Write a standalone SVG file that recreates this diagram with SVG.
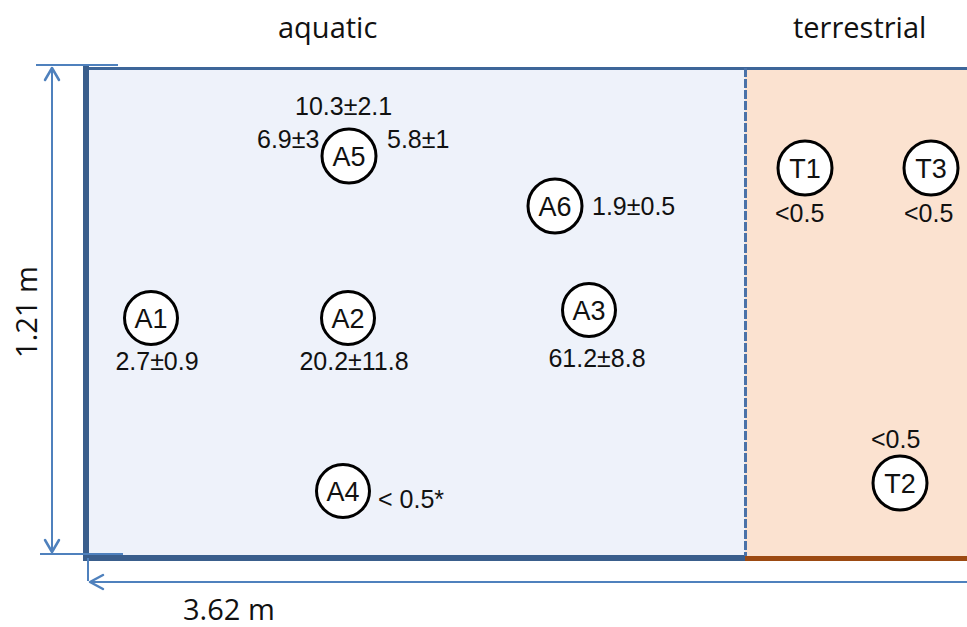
<svg xmlns="http://www.w3.org/2000/svg" width="967" height="627" viewBox="0 0 967 627">
  <style>
    .dim { stroke: #4F81BD; stroke-width: 2; fill: none; }
    .head { stroke: #4F81BD; stroke-width: 2.5; fill: none; stroke-linecap: round; stroke-linejoin: round; }
    .zone { font-family: "Open Sans", "Liberation Sans", sans-serif; font-size: 29px; fill: #111; }
    .site circle { fill: #fff; stroke: #000; stroke-width: 3; }
    .site text.id { font-family: "Liberation Sans", Arial, sans-serif; font-size: 27px; fill: #111; text-anchor: middle; }
    .val { font-family: "Liberation Sans", Arial, sans-serif; font-size: 25px; fill: #111; }
  </style>

  <rect width="967" height="627" fill="#ffffff"/>

  <!-- zone titles -->
  <text class="zone" x="278" y="38">aquatic</text>
  <text class="zone" x="793" y="38">terrestrial</text>

  <!-- tank compartments -->
  <g id="aquatic-zone">
    <rect x="86" y="68" width="659" height="490" fill="#EEF2FA"/>
  </g>
  <g id="terrestrial-zone">
    <rect x="745" y="68" width="230" height="490" fill="#FBE2D0"/>
  </g>

  <!-- tank walls -->
  <g id="walls">
    <line x1="86" y1="68.5" x2="967" y2="68.5" stroke="#3E6699" stroke-width="3"/>
    <line x1="745" y1="558.5" x2="967" y2="558.5" stroke="#9C4A12" stroke-width="5"/>
    <line x1="83" y1="558" x2="745" y2="558" stroke="#3A5E8C" stroke-width="6"/>
    <line x1="86" y1="66" x2="86" y2="561" stroke="#3A5E8C" stroke-width="6"/>
    <line x1="745.5" y1="68" x2="745.5" y2="556" stroke="#4A72A8" stroke-width="3" stroke-dasharray="9 2"/>
  </g>

  <!-- dimension lines -->
  <g id="connectors">
    <line class="dim" x1="36" y1="65" x2="118" y2="65"/>
    <line class="dim" x1="40" y1="554" x2="123" y2="554"/>
    <line class="dim" x1="52" y1="67" x2="52" y2="552"/>
    <polyline class="head" points="45,80 52,68 59,80"/>
    <polyline class="head" points="45,540 52,552 59,540"/>

    <line class="dim" x1="88" y1="558" x2="88" y2="581"/>
    <line class="dim" x1="90" y1="582" x2="967" y2="582"/>
    <polyline class="head" points="103,575 90,582 103,589"/>
  </g>

  <text class="zone" x="183" y="620">3.62 m</text>
  <text class="zone" transform="translate(37 312) rotate(-90)" text-anchor="middle">1.21 m</text>

  <!-- sampling sites -->
  <g id="A1" class="site">
    <circle cx="151" cy="318" r="26.5"/>
    <text class="id" x="151" y="328">A1</text>
    <text class="val" x="157" y="370" text-anchor="middle">2.7±0.9</text>
  </g>
  <g id="A2" class="site">
    <circle cx="348" cy="318" r="26.5"/>
    <text class="id" x="348" y="328">A2</text>
    <text class="val" x="354" y="370" text-anchor="middle">20.2±11.8</text>
  </g>
  <g id="A3" class="site">
    <circle cx="589" cy="310" r="26.5"/>
    <text class="id" x="589" y="320">A3</text>
    <text class="val" x="597" y="367" text-anchor="middle">61.2±8.8</text>
  </g>
  <g id="A4" class="site">
    <circle cx="343" cy="491" r="26.5"/>
    <text class="id" x="343" y="501">A4</text>
    <text class="val" x="378" y="508">&lt; 0.5*</text>
  </g>
  <g id="A5" class="site">
    <circle cx="349" cy="156" r="27"/>
    <text class="id" x="349" y="166">A5</text>
    <text class="val" x="295" y="115">10.3±2.1</text>
    <text class="val" x="257" y="148">6.9±3</text>
    <text class="val" x="387" y="148">5.8±1</text>
  </g>
  <g id="A6" class="site">
    <circle cx="555" cy="206" r="27"/>
    <text class="id" x="555" y="216">A6</text>
    <text class="val" x="592" y="215">1.9±0.5</text>
  </g>
  <g id="T1" class="site">
    <circle cx="805" cy="168" r="27"/>
    <text class="id" x="805" y="178">T1</text>
    <text class="val" x="775" y="222">&lt;0.5</text>
  </g>
  <g id="T3" class="site">
    <circle cx="931" cy="168" r="27"/>
    <text class="id" x="931" y="178">T3</text>
    <text class="val" x="904" y="222">&lt;0.5</text>
  </g>
  <g id="T2" class="site">
    <circle cx="900" cy="483" r="27"/>
    <text class="id" x="900" y="493">T2</text>
    <text class="val" x="871" y="448">&lt;0.5</text>
  </g>
</svg>
